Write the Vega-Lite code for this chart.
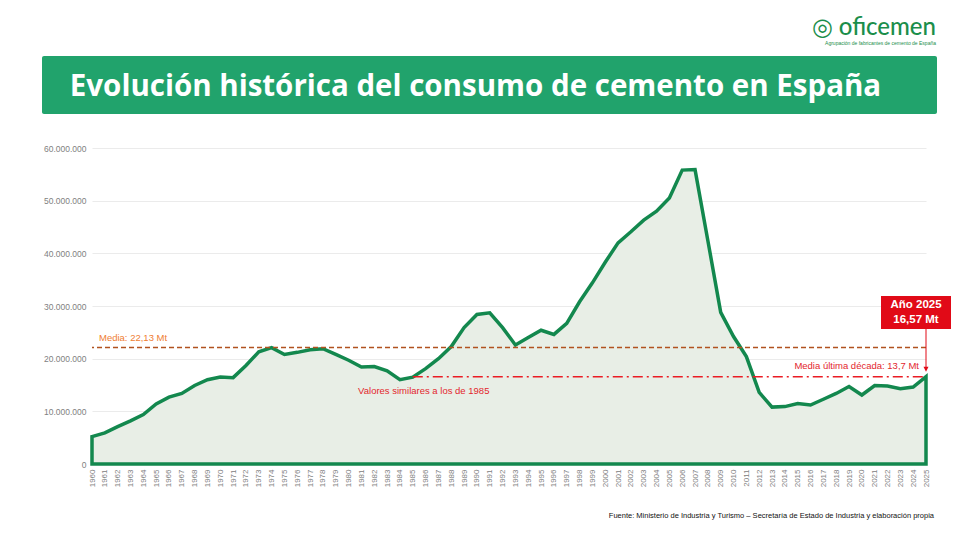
{
  "$schema": "https://vega.github.io/schema/vega-lite/v6.json",
  "background": "white",
  "padding": {"left": 42, "top": 16, "right": 0, "bottom": 0},
  "title": {
    "text": "◎ oficemen",
    "subtitle": "Agrupación de fabricantes de cemento de España",
    "anchor": "end",
    "font": "Lato",
    "fontSize": 24,
    "fontWeight": 500,
    "color": "#1b8e4b",
    "subtitleFont": "Liberation Sans",
    "subtitleFontSize": 5,
    "subtitleColor": "#1b8e4b",
    "subtitlePadding": 1,
    "offset": 10,
    "dx": -15
  },
  "spacing": 30,
  "datasets": {
    "consumo": [
      {"anio": "1960", "t": 5200000}, {"anio": "1961", "t": 5900000}, {"anio": "1962", "t": 7100000},
      {"anio": "1963", "t": 8200000}, {"anio": "1964", "t": 9400000}, {"anio": "1965", "t": 11400000},
      {"anio": "1966", "t": 12700000}, {"anio": "1967", "t": 13400000}, {"anio": "1968", "t": 14900000},
      {"anio": "1969", "t": 16000000}, {"anio": "1970", "t": 16500000}, {"anio": "1971", "t": 16400000},
      {"anio": "1972", "t": 18700000}, {"anio": "1973", "t": 21300000}, {"anio": "1974", "t": 22100000},
      {"anio": "1975", "t": 20800000}, {"anio": "1976", "t": 21200000}, {"anio": "1977", "t": 21700000},
      {"anio": "1978", "t": 21900000}, {"anio": "1979", "t": 20800000}, {"anio": "1980", "t": 19700000},
      {"anio": "1981", "t": 18400000}, {"anio": "1982", "t": 18500000}, {"anio": "1983", "t": 17700000},
      {"anio": "1984", "t": 16000000}, {"anio": "1985", "t": 16500000}, {"anio": "1986", "t": 18100000},
      {"anio": "1987", "t": 20000000}, {"anio": "1988", "t": 22300000}, {"anio": "1989", "t": 25900000},
      {"anio": "1990", "t": 28400000}, {"anio": "1991", "t": 28700000}, {"anio": "1992", "t": 25900000},
      {"anio": "1993", "t": 22600000}, {"anio": "1994", "t": 24000000}, {"anio": "1995", "t": 25400000},
      {"anio": "1996", "t": 24600000}, {"anio": "1997", "t": 26700000}, {"anio": "1998", "t": 30800000},
      {"anio": "1999", "t": 34400000}, {"anio": "2000", "t": 38300000}, {"anio": "2001", "t": 42000000},
      {"anio": "2002", "t": 44100000}, {"anio": "2003", "t": 46300000}, {"anio": "2004", "t": 48000000},
      {"anio": "2005", "t": 50500000}, {"anio": "2006", "t": 55800000}, {"anio": "2007", "t": 55900000},
      {"anio": "2008", "t": 42400000}, {"anio": "2009", "t": 28800000}, {"anio": "2010", "t": 24200000},
      {"anio": "2011", "t": 20400000}, {"anio": "2012", "t": 13600000}, {"anio": "2013", "t": 10800000},
      {"anio": "2014", "t": 10900000}, {"anio": "2015", "t": 11500000}, {"anio": "2016", "t": 11200000},
      {"anio": "2017", "t": 12300000}, {"anio": "2018", "t": 13400000}, {"anio": "2019", "t": 14700000},
      {"anio": "2020", "t": 13100000}, {"anio": "2021", "t": 14900000}, {"anio": "2022", "t": 14800000},
      {"anio": "2023", "t": 14300000}, {"anio": "2024", "t": 14600000}, {"anio": "2025", "t": 16570000}
    ]
  },
  "vconcat": [
    {
      "width": 895,
      "height": 58,
      "view": {"fill": "#21a36c", "stroke": null, "cornerRadius": 2},
      "data": {"values": [{"titulo": "Evolución histórica del consumo de cemento en España"}]},
      "mark": {"type": "text", "font": "Open Sans", "fontSize": 29.5, "fontWeight": "bold", "color": "white", "align": "center", "baseline": "middle", "dx": -14, "dy": 2},
      "encoding": {"text": {"field": "titulo", "type": "nominal"}}
    },
    {
      "spacing": 0,
      "hconcat": [
        {
          "width": 1,
          "height": 316,
          "data": {"values": []},
          "mark": {"type": "point", "opacity": 0}
        },
        {
          "width": 834,
          "height": 316,
          "title": {
            "text": "Fuente: Ministerio de Industria y Turismo – Secretaría de Estado de Industria y elaboración propia",
            "orient": "bottom",
            "anchor": "end",
            "frame": "group",
            "font": "Liberation Sans",
            "fontSize": 7.5,
            "fontWeight": "normal",
            "color": "#111111",
            "offset": 25,
            "dx": 8
          },
          "encoding": {
            "x": {
              "field": "anio",
              "type": "ordinal",
              "scale": {"type": "point", "padding": 0},
              "axis": {"title": null, "labelAngle": 270, "labelFontSize": 8, "labelColor": "#808080", "labelPadding": 5, "ticks": false, "domain": false, "labelFont": "Liberation Sans"}
            },
            "y": {
              "field": "t",
              "type": "quantitative",
              "scale": {"domain": [0, 60000000], "nice": false},
              "axis": {"title": null, "values": [0, 10000000, 20000000, 30000000, 40000000, 50000000, 60000000], "format": ",d", "labelFontSize": 8.5, "labelColor": "#7f7f7f", "labelFont": "Liberation Sans", "labelPadding": 6, "tickSize": 0, "ticks": false, "domain": false, "gridColor": "#ebebeb", "gridWidth": 1}
            }
          },
          "layer": [
            {
              "data": {"name": "consumo"},
              "mark": {"type": "area", "fill": "#e8eee6", "stroke": "#13884e", "strokeWidth": 3.5, "strokeJoin": "miter"}
            },
            {
              "data": {"values": [{"t": 22130000}]},
              "mark": {"type": "rule", "color": "#b1521f", "strokeWidth": 1.6, "strokeDash": [5, 3]},
              "encoding": {"x": null}
            },
            {
              "data": {"values": [{"anio": "1985", "fin": "2025", "t": 16570000}]},
              "mark": {"type": "rule", "color": "#ea1c24", "strokeWidth": 1.6, "strokeDash": [10, 4, 2, 4]},
              "encoding": {"x2": {"field": "fin"}}
            },
            {
              "data": {"values": [{"anio": "1960", "t": 22130000, "nota": "Media: 22,13 Mt"}]},
              "mark": {"type": "text", "align": "left", "baseline": "bottom", "dx": 7, "dy": -4, "fontSize": 9.5, "color": "#ef7d32", "font": "Liberation Sans"},
              "encoding": {"text": {"field": "nota"}}
            },
            {
              "data": {"values": [{"anio": "1985", "t": 16570000, "nota": "Valores similares a los de 1985"}]},
              "mark": {"type": "text", "align": "center", "baseline": "middle", "dx": 11, "dy": 14, "fontSize": 9.5, "color": "#e3262d", "font": "Liberation Sans"},
              "encoding": {"text": {"field": "nota"}}
            },
            {
              "data": {"values": [{"anio": "2025", "t": 16570000, "nota": "Media última década: 13,7 Mt"}]},
              "mark": {"type": "text", "align": "right", "baseline": "middle", "dx": -7, "dy": -10.5, "fontSize": 9.5, "color": "#e3262d", "font": "Liberation Sans"},
              "encoding": {"text": {"field": "nota"}}
            },
            {
              "data": {"values": [{"anio": "2025", "t": 16570000}]},
              "mark": {
                "type": "point",
                "filled": true,
                "opacity": 1,
                "color": "#e10a17",
                "strokeWidth": 0,
                "size": 10000,
                "shape": "M-0.9,-1.614L0.5,-1.614L0.5,-0.954L-0.9,-0.954Z M-0.01,-0.96L0.01,-0.96L0.01,-0.2L0.05,-0.2L0,-0.1L-0.05,-0.2L-0.01,-0.2Z"
              }
            },
            {
              "data": {"values": [{"anio": "2025", "t": 16570000, "nota": "Año 2025\n16,57 Mt"}]},
              "mark": {"type": "text", "align": "center", "baseline": "top", "lineBreak": "\n", "lineHeight": 15, "dx": -10, "dy": -78, "fontSize": 11.5, "fontWeight": "bold", "color": "white", "font": "Liberation Sans"},
              "encoding": {"text": {"field": "nota"}}
            }
          ]
        }
      ]
    }
  ],
  "config": {
    "locale": {"number": {"decimal": ",", "thousands": ".", "grouping": [3], "currency": ["", " €"]}},
    "view": {"stroke": null},
    "font": "Liberation Sans"
  }
}
